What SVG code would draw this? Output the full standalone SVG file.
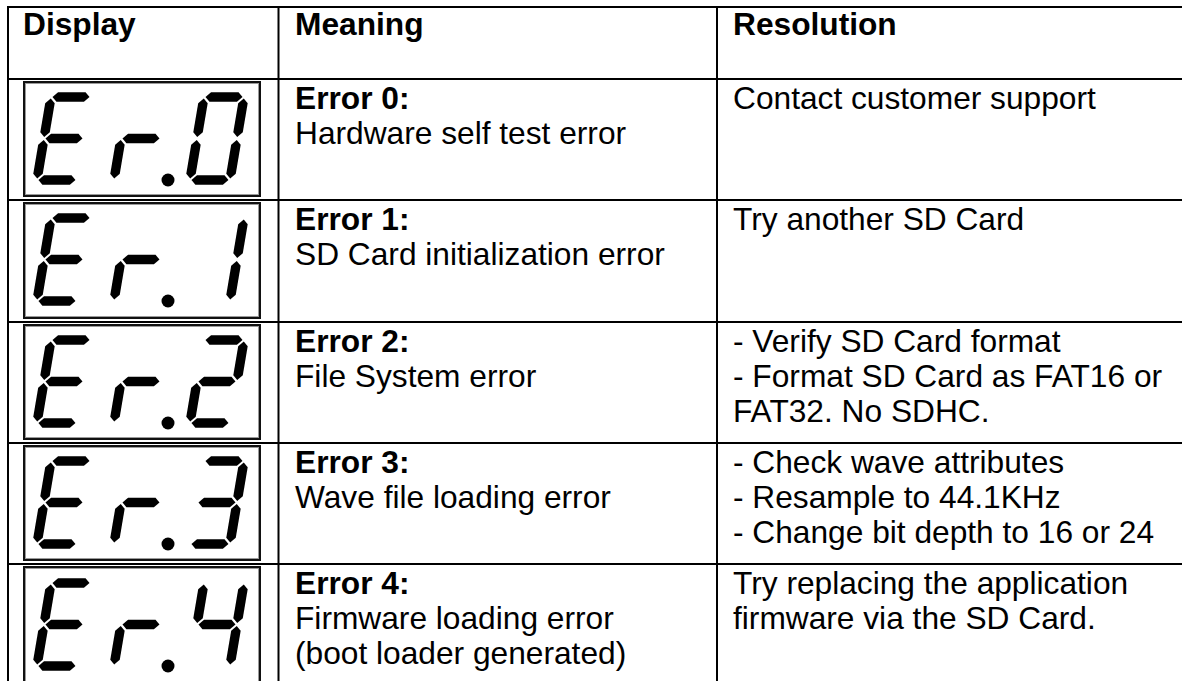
<svg xmlns="http://www.w3.org/2000/svg" xmlns:xlink="http://www.w3.org/1999/xlink" width="1182" height="681" viewBox="0 0 1182 681">
  <style>
    .grid { stroke: #000; stroke-width: 2; fill: none; }
    .t { font-family: "Liberation Sans", Arial, sans-serif; font-size: 31.7px; fill: #000; }
    .b { font-weight: bold; }
    .frame { fill: #fff; stroke: #111; stroke-width: 2; }
    .frame-in { fill: none; stroke: #9a9a9a; stroke-width: 1; }
    .seg { fill: #000; }
  </style>
  <defs>
    <!-- seven-segment pieces in upright local coordinates (W=40, H=83) -->
    <polygon id="sa" class="seg" points="1.5,0 6.25,-4.75 33.75,-4.75 38.5,0 33.75,4.75 6.25,4.75"/>
    <polygon id="sg" class="seg" points="1.5,41.5 6.25,36.75 33.75,36.75 38.5,41.5 33.75,46.25 6.25,46.25"/>
    <polygon id="sd" class="seg" points="1.5,83 6.25,78.25 33.75,78.25 38.5,83 33.75,87.75 6.25,87.75"/>
    <polygon id="sf" class="seg" points="0,1.5 4.75,6.25 4.75,35.25 0,40 -4.75,35.25 -4.75,6.25"/>
    <polygon id="se" class="seg" points="0,43 4.75,47.75 4.75,76.75 0,81.5 -4.75,76.75 -4.75,47.75"/>
    <polygon id="sb" class="seg" points="40,1.5 44.75,6.25 44.75,35.25 40,40 35.25,35.25 35.25,6.25"/>
    <polygon id="sc" class="seg" points="40,43 44.75,47.75 44.75,76.75 40,81.5 35.25,76.75 35.25,47.75"/>
    <!-- glyphs -->
    <g id="dE"><use xlink:href="#sa"/><use xlink:href="#sf"/><use xlink:href="#sg"/><use xlink:href="#se"/><use xlink:href="#sd"/></g>
    <g id="dr"><use xlink:href="#sg"/><use xlink:href="#se"/></g>
    <g id="d0"><use xlink:href="#sa"/><use xlink:href="#sb"/><use xlink:href="#sc"/><use xlink:href="#sd"/><use xlink:href="#se"/><use xlink:href="#sf"/></g>
    <g id="d1"><use xlink:href="#sb"/><use xlink:href="#sc"/></g>
    <g id="d2"><use xlink:href="#sa"/><use xlink:href="#sb"/><use xlink:href="#sg"/><use xlink:href="#se"/><use xlink:href="#sd"/></g>
    <g id="d3"><use xlink:href="#sa"/><use xlink:href="#sb"/><use xlink:href="#sg"/><use xlink:href="#sc"/><use xlink:href="#sd"/></g>
    <g id="d4"><use xlink:href="#sf"/><use xlink:href="#sb"/><use xlink:href="#sg"/><use xlink:href="#sc"/></g>
    <!-- display prefix "Er." -->
    <g id="prefix">
      <g transform="translate(51,0) skewX(-9.6)"><use xlink:href="#dE"/></g>
      <g transform="translate(128,0) skewX(-9.6)"><use xlink:href="#dr"/></g>
      <circle cx="168" cy="83" r="6.5" fill="#000"/>
    </g>
  </defs>

  <rect width="1182" height="681" fill="#fff"/>

  <!-- table rules -->
  <g id="grid" class="grid">
    <line x1="7" y1="7" x2="1182" y2="7"/>
    <line x1="7" y1="79" x2="1182" y2="79"/>
    <line x1="7" y1="200" x2="1182" y2="200"/>
    <line x1="7" y1="322" x2="1182" y2="322"/>
    <line x1="7" y1="443" x2="1182" y2="443"/>
    <line x1="7" y1="564" x2="1182" y2="564"/>
    <line x1="8" y1="6" x2="8" y2="681"/>
    <line x1="278.5" y1="6" x2="278.5" y2="681"/>
    <line x1="717" y1="6" x2="717" y2="681"/>
  </g>

  <!-- header -->
  <g id="header">
    <text class="t b" x="23" y="35">Display</text>
    <text class="t b" x="295" y="35">Meaning</text>
    <text class="t b" x="733" y="35">Resolution</text>
  </g>

  <!-- Error 0 -->
  <g id="row-er0">
    <rect class="frame" x="24" y="82" width="236" height="114"/>
    <rect class="frame-in" x="25.5" y="83.5" width="233" height="111"/>
    <g transform="translate(0,97)">
      <use xlink:href="#prefix"/>
      <g transform="translate(204,0) skewX(-9.6)"><use xlink:href="#d0"/></g>
    </g>
    <text class="t b" x="295" y="108.5">Error 0:</text>
    <text class="t" x="295" y="143.5">Hardware self test error</text>
    <text class="t" x="733" y="108.5">Contact customer support</text>
  </g>

  <!-- Error 1 -->
  <g id="row-er1">
    <rect class="frame" x="24" y="203" width="236" height="115"/>
    <rect class="frame-in" x="25.5" y="204.5" width="233" height="112"/>
    <g transform="translate(0,218)">
      <use xlink:href="#prefix"/>
      <g transform="translate(204,0) skewX(-9.6)"><use xlink:href="#d1"/></g>
    </g>
    <text class="t b" x="295" y="229.5">Error 1:</text>
    <text class="t" x="295" y="264.5">SD Card initialization error</text>
    <text class="t" x="733" y="229.5">Try another SD Card</text>
  </g>

  <!-- Error 2 -->
  <g id="row-er2">
    <rect class="frame" x="24" y="325" width="236" height="114"/>
    <rect class="frame-in" x="25.5" y="326.5" width="233" height="111"/>
    <g transform="translate(0,340)">
      <use xlink:href="#prefix"/>
      <g transform="translate(204,0) skewX(-9.6)"><use xlink:href="#d2"/></g>
    </g>
    <text class="t b" x="295" y="351.5">Error 2:</text>
    <text class="t" x="295" y="386.5">File System error</text>
    <text class="t" x="733" y="351.5">- Verify SD Card format</text>
    <text class="t" x="733" y="386.5">- Format SD Card as FAT16 or</text>
    <text class="t" x="733" y="421.5">FAT32. No SDHC.</text>
  </g>

  <!-- Error 3 -->
  <g id="row-er3">
    <rect class="frame" x="24" y="446" width="236" height="114"/>
    <rect class="frame-in" x="25.5" y="447.5" width="233" height="111"/>
    <g transform="translate(0,461)">
      <use xlink:href="#prefix"/>
      <g transform="translate(204,0) skewX(-9.6)"><use xlink:href="#d3"/></g>
    </g>
    <text class="t b" x="295" y="472.5">Error 3:</text>
    <text class="t" x="295" y="507.5">Wave file loading error</text>
    <text class="t" x="733" y="472.5">- Check wave attributes</text>
    <text class="t" x="733" y="507.5">- Resample to 44.1KHz</text>
    <text class="t" x="733" y="542.5">- Change bit depth to 16 or 24</text>
  </g>

  <!-- Error 4 -->
  <g id="row-er4">
    <rect class="frame" x="24" y="567" width="236" height="120"/>
    <rect class="frame-in" x="25.5" y="568.5" width="233" height="117"/>
    <g transform="translate(0,583)">
      <use xlink:href="#prefix"/>
      <g transform="translate(204,0) skewX(-9.6)"><use xlink:href="#d4"/></g>
    </g>
    <text class="t b" x="295" y="593.5">Error 4:</text>
    <text class="t" x="295" y="628.5">Firmware loading error</text>
    <text class="t" x="295" y="663.5">(boot loader generated)</text>
    <text class="t" x="733" y="593.5">Try replacing the application</text>
    <text class="t" x="733" y="628.5">firmware via the SD Card.</text>
  </g>
</svg>
